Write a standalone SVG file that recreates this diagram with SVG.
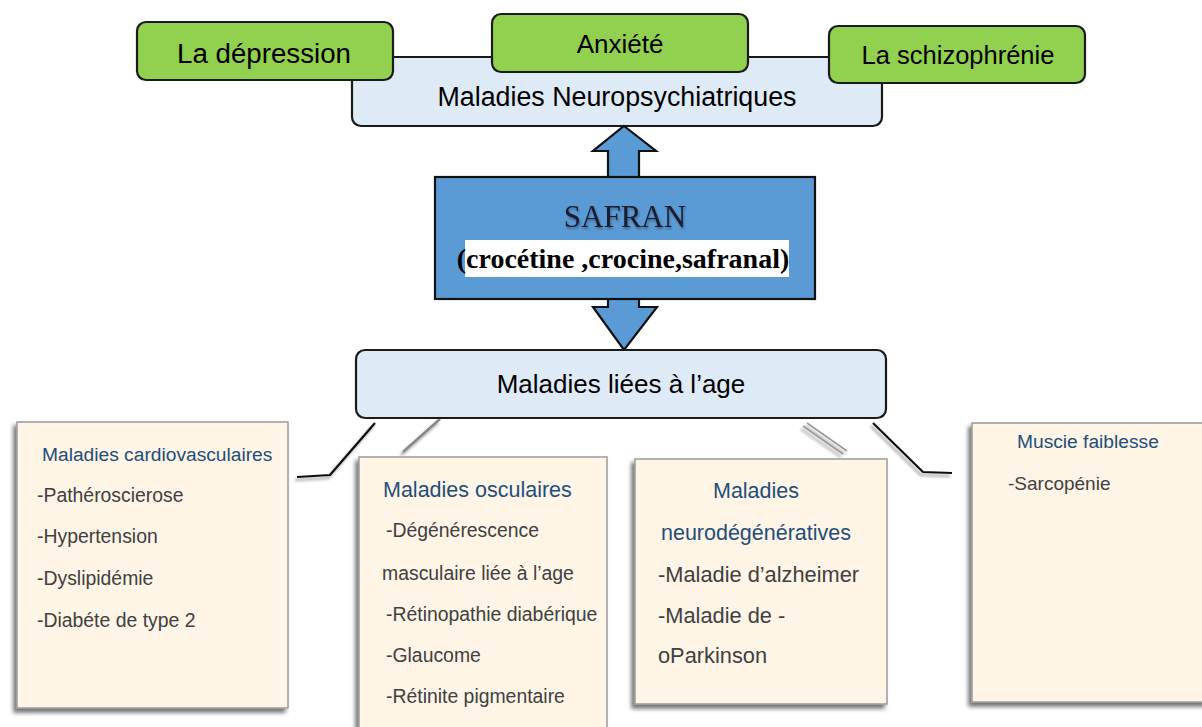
<svg xmlns="http://www.w3.org/2000/svg" width="1202" height="727" viewBox="0 0 1202 727">
<defs>
<filter id="sh" x="-10%" y="-10%" width="120%" height="120%">
<feDropShadow dx="-3" dy="4" stdDeviation="2" flood-color="#000" flood-opacity="0.55"/>
</filter>
<filter id="lsh" x="-20%" y="-20%" width="140%" height="140%">
<feDropShadow dx="-2" dy="3" stdDeviation="1.5" flood-color="#000" flood-opacity="0.4"/>
</filter>
<filter id="tsh" x="-10%" y="-10%" width="120%" height="130%">
<feDropShadow dx="1" dy="2" stdDeviation="1" flood-color="#000" flood-opacity="0.35"/>
</filter>
</defs>
<style>
.sans{font-family:"Liberation Sans",Arial,sans-serif;}
.green{fill:#92D050;stroke:#1a1a1a;stroke-width:2.2;}
.lblue{fill:#DEEAF6;stroke:#1a1a1a;stroke-width:2.2;}
.card{fill:#FEF5E7;stroke:#9a9a9a;stroke-width:1.5;filter:url(#sh);}
.title{fill:#1F4E79;font-size:19.2px;}
.item{fill:#404040;font-size:19.4px;}
.oc .title{font-size:21.5px;}
.nd .title{font-size:21.5px;}
.nd .item{font-size:21.8px;}
.mu .item{font-size:19px;}
.big{fill:#000;}
.arrow{fill:#5B9BD5;stroke:#111;stroke-width:2.2;stroke-linejoin:miter;}
</style>
<rect width="1202" height="727" fill="#fff"/>

<g id="neuro">
<rect class="lblue" x="352" y="57" width="530" height="69" rx="9"/>
<text class="sans big" x="617" y="106" font-size="26.8" text-anchor="middle">Maladies Neuropsychiatriques</text>
</g>
<g id="depression">
<rect class="green" x="137" y="22" width="256" height="58" rx="9"/>
<text class="sans big" x="264" y="63" font-size="27.7" text-anchor="middle">La dépression</text>
</g>
<g id="anxiete">
<rect class="green" x="492" y="14" width="256" height="58" rx="9"/>
<text class="sans big" x="620" y="53" font-size="26" text-anchor="middle">Anxiété</text>
</g>
<g id="schizo">
<rect class="green" x="829" y="26" width="256" height="57" rx="9"/>
<text class="sans big" x="958" y="64" font-size="25.5" text-anchor="middle">La schizophrénie</text>
</g>

<g id="connectors">
<polygon class="arrow" points="624,126 656,151 639,151 639,178 608,178 608,151 593,151"/>
<polygon class="arrow" points="608,298 639,298 639,307 657,307 624,350 593,307 608,307"/>
<g filter="url(#lsh)" fill="none" stroke-linejoin="miter">
<polyline points="375,423 330,475 297,477" stroke="#111" stroke-width="2.2"/>
<line x1="440" y1="419" x2="403" y2="452" stroke="#888" stroke-width="2.5"/>
<line x1="803" y1="426" x2="843" y2="454" stroke="#999" stroke-width="1.6"/>
<line x1="807" y1="423" x2="847" y2="451" stroke="#999" stroke-width="1.6"/>
<polyline points="873,423 923,472 952,473" stroke="#111" stroke-width="2.2"/>
</g>
</g>

<g id="safran">
<rect x="435" y="177" width="380" height="122" fill="#5B9BD5" stroke="#111" stroke-width="2.2"/>
<text x="625" y="227" font-family="'Liberation Serif','Times New Roman',serif" font-size="31" fill="#1a1a2e" text-anchor="middle" filter="url(#tsh)">SAFRAN</text>
<rect x="465" y="240" width="324" height="37" fill="#fff"/>
<text x="623" y="268" font-family="'Liberation Serif','Times New Roman',serif" font-size="28" font-weight="bold" fill="#000" text-anchor="middle">(crocétine ,crocine,safranal)</text>
</g>

<g id="age">
<rect class="lblue" x="356" y="350" width="530" height="68" rx="9"/>
<text class="sans big" x="621" y="393" font-size="26" text-anchor="middle">Maladies liées à l’age</text>
</g>

<g id="cardio">
<rect class="card" x="17" y="422" width="271" height="286"/>
<text class="sans title" x="42" y="461">Maladies cardiovasculaires</text>
<text class="sans item" x="37" y="502">-Pathéroscierose</text>
<text class="sans item" x="37" y="543">-Hypertension</text>
<text class="sans item" x="37" y="585">-Dyslipidémie</text>
<text class="sans item" x="37" y="627">-Diabéte de type 2</text>
</g>

<g id="oculaire" class="oc">
<rect class="card" x="359" y="457" width="248" height="280"/>
<text class="sans title" x="383" y="497">Maladies osculaires</text>
<text class="sans item" x="386" y="537">-Dégénérescence</text>
<text class="sans item" x="382" y="580">masculaire liée à l’age</text>
<text class="sans item" x="386" y="621">-Rétinopathie diabérique</text>
<text class="sans item" x="386" y="662">-Glaucome</text>
<text class="sans item" x="386" y="703">-Rétinite pigmentaire</text>
</g>

<g id="neurodeg" class="nd">
<rect class="card" x="635" y="459" width="252" height="245"/>
<text class="sans title" x="756" y="498" text-anchor="middle">Maladies</text>
<text class="sans title" x="756" y="540" text-anchor="middle">neurodégénératives</text>
<text class="sans item" x="658" y="582">-Maladie d’alzheimer</text>
<text class="sans item" x="658" y="623">-Maladie de -</text>
<text class="sans item" x="658" y="663">oParkinson</text>
</g>

<g id="muscle" class="mu">
<rect class="card" x="972" y="423" width="240" height="279"/>
<text class="sans title" x="1017" y="448">Muscie faiblesse</text>
<text class="sans item" x="1008" y="490">-Sarcopénie</text>
</g>
</svg>
